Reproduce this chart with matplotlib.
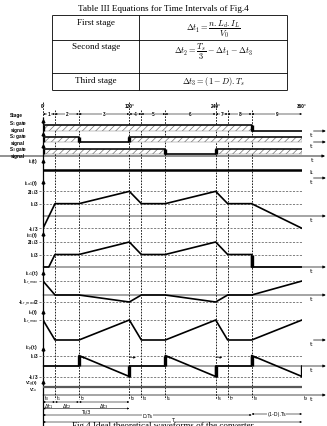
import matplotlib.pyplot as plt

W, H = 327, 427

# ---- table ----
table_title = 'Table III Equations for Time Intervals of Fig.4'
stage_names = ['First stage', 'Second stage', 'Third stage']
stage_eqs = [r'$\Delta t_1 = \dfrac{n.L_d.I_L}{V_0}$',
             r'$\Delta t_2 = \dfrac{T_s}{3} - \Delta t_1 - \Delta t_3$',
             r'$\Delta t_3 = (1 - D).T_s$']

# ---- waveforms (x in degrees of one period) ----
t_deg = [0, 16.7, 50, 120, 136.7, 170, 240, 256.7, 290, 360]
t_names = ['t$_0$', 't$_1$', 't$_2$', 't$_3$', 't$_4$', 't$_5$', 't$_6$', 't$_7$', 't$_8$', 't$_9$']
deg_ticks = [0, 120, 240, 360]
deg_labels = ['0°', '120°', '240°', '360°']
stage_labels = ['1', '2', '3', '4', '5', '6', '7', '8', '9']

s1_t = [0, 290, 360]
s1_v = [1, 0, 0]
s2_t = [0, 50, 120, 360]
s2_v = [1, 0, 1, 1]
s3_t = [0, 170, 240, 360]
s3_v = [1, 0, 1, 1]
gate_names = ['S$_1$ gate\nsignal', 'S$_2$ gate\nsignal', 'S$_3$ gate\nsignal']

iL_t = [0, 360]
iL_v = [1, 1]

iLa1_v = [-1/3, 1/3, 1/3, 2/3, 1/3, 1/3, 2/3, 1/3, 1/3, -1/3]
iS1_t = [0, 8, 16.7, 50, 120, 136.7, 170, 240, 256.7, 290, 290, 360]
iS1_v = [0, 0, 1/3, 1/3, 2/3, 1/3, 1/3, 2/3, 1/3, 1/3, 0, 0]
iLr1_v = [1, 0, 0, -0.5, 0, 0, -0.5, 0, 0, 1]
io_v = [1, 0, 0, 1, 0, 0, 1, 0, 0, 1]
iCp_t = [0, 50, 50, 120, 120, 170, 170, 240, 240, 290, 290, 360, 360]
iCp_v = [0, 0, 1/3, -1/3, 0, 0, 1/3, -1/3, 0, 0, 1/3, -1/3, 0]
vcg_t = [0, 360]
vcg_v = [1, 1]

caption = 'Fig.4 Ideal theoretical waveforms of the converter'

LAB = dict(fontsize=3.4, fontweight='bold', family='Liberation Sans',
           math_fontfamily='dejavusans')
DASH = (0, (3, 2))

fig = plt.figure(figsize=(W / 100, H / 100), dpi=100)
plt.rcParams['hatch.linewidth'] = 0.5

bg = fig.add_axes([0, 0, 1, 1])
bg.set_xlim(0, W)
bg.set_ylim(H, 0)
bg.axis('off')

# table
serif = dict(family='Liberation Serif', fontsize=6.6)
bg.text(163, 9, table_title, ha='center', va='center', **serif)
bg.hlines([16, 41, 74, 91], 52, 287, color='k', lw=0.6)
bg.vlines([52, 139, 287], 16, 91, color='k', lw=0.6)
for name, eq, ny, ey in zip(stage_names, stage_eqs, [23, 47, 81], [29, 52, 81]):
    bg.text(96, ny, name, ha='center', va='center', **serif)
    bg.text(213, ey, eq, ha='center', va='center', fontsize=6.0, math_fontfamily='cm')

# time axis overlay: x in degrees, y in pixels
tl = fig.add_axes([43 / W, 0, 259 / W, 1])
tl.set_xlim(0, 360)
tl.set_ylim(H, 0)
tl.axis('off')

minor = [d for d in t_deg if d not in deg_ticks]
tl.vlines(minor, 111, 400, colors='k', linestyles=(0, (2, 1.5)), lw=0.6)
tl.vlines(deg_ticks[1:], 103, 400, colors='k', linestyles=(0, (2, 1.5)), lw=0.6)
tl.vlines(0, 103, 118, colors='k', linestyles=(0, (2, 1.5)), lw=0.6)
for d, lab in zip(deg_ticks, deg_labels):
    tl.text(d, 107, lab, ha='center', va='center', **LAB)

arr = dict(arrowstyle='<|-|>', lw=0.4, color='k', mutation_scale=2.5, shrinkA=0, shrinkB=0)
for a, b, lab in zip(t_deg[:-1], t_deg[1:], stage_labels):
    tl.annotate('', xy=(b, 115), xytext=(a, 115), arrowprops=arr)
    tl.text((a + b) / 2, 115, lab, ha='center', va='center',
            bbox=dict(fc='white', ec='none', pad=0.3), **LAB)

for d, name in zip(t_deg, t_names):
    tl.text(d + 1.5, 398.5, name, ha='left', va='center', fontsize=3.3, math_fontfamily='dejavusans')


def dim(a, b, y, label, ly, box=False):
    tl.annotate('', xy=(b, y), xytext=(a, y), arrowprops=arr, annotation_clip=False)
    kw = dict(bbox=dict(fc='white', ec='none', pad=0.2)) if box else {}
    tl.text((a + b) / 2, ly, label, ha='center', va='center', fontsize=3.6,
            math_fontfamily='dejavusans', **kw)


dim(t_deg[0], t_deg[1], 403, r'$\Delta$t$_1$', 406.5)
dim(t_deg[1], t_deg[2], 403, r'$\Delta$t$_2$', 406.5)
dim(t_deg[2], t_deg[3], 403, r'$\Delta$t$_3$', 406.5)
dim(0, 120, 409.5, 'Ts/3', 412.5)
dim(0, 290, 416, 'D.Ts', 417, box=True)
dim(290, 360, 415, '(1-D).Ts', 415, box=True)
dim(0, 360, 423, 'T', 421, box=True)


def row_axes(zero, unit, top, bottom):
    ax = fig.add_axes([43 / W, 1 - bottom / H, 259 / W, (bottom - top) / H])
    ax.set_xlim(0, 360)
    ax.set_ylim(-(bottom - zero) / unit, (zero - top) / unit)
    ax.axis('off')
    return ax


def t_arrow(ax, full=True):
    start = 0 if full else 376
    ax.annotate('', xy=(393, 0), xytext=(start, 0),
                arrowprops=dict(arrowstyle='-|>', lw=0.5, color='k', mutation_scale=4,
                                shrinkA=0, shrinkB=0), annotation_clip=False)
    ax.annotate('t', xy=(373, 0), xytext=(0, -0.5), textcoords='offset points',
                ha='center', va='top', fontsize=4.5, annotation_clip=False)


# gate signals
gates = [(s1_t, s1_v, 132, 6, 124, 134),
         (s2_t, s2_v, 143, 5, 136, 145),
         (s3_t, s3_v, 155, 5, 148, 157)]
for (tt, vv, z, u, top, bot), name, ny in zip(gates, gate_names, [126, 139, 152]):
    ax = row_axes(z, u, top, bot)
    ax.fill_between(tt, 0, vv, step='post', facecolor='white', edgecolor='0.45',
                    hatch='/////', lw=0.3)
    ax.plot(tt, vv, drawstyle='steps-post', color='k', lw=1.1)
    for i in range(1, len(vv)):
        if vv[i] != vv[i - 1]:
            ax.vlines(tt[i], 0, 1, colors='k', lw=2.4)
    ax.vlines(tt[0], 0, vv[0], colors='k', lw=2.4)
    if name != gate_names[-1]:
        t_arrow(ax, full=False)
    bg.text(18, ny, name, ha='center', va='center', linespacing=0.85, **LAB)

bg.text(16, 115, 'Stage', ha='center', va='center', **LAB)
bg.annotate('', xy=(325, 157), xytext=(0, 157),
            arrowprops=dict(arrowstyle='-|>', lw=0.6, color='k', mutation_scale=4,
                            shrinkA=0, shrinkB=0))
bg.text(312, 158.5, 't', ha='center', va='top', fontsize=4.5)

# i_L
ax = row_axes(179, 8, 163, 182)
ax.plot(iL_t, iL_v, color='k', lw=1.8)
t_arrow(ax, full=False)
bg.text(309, 173, 'I$_L$', ha='left', va='center', fontsize=4.5)
bg.text(38, 162, 'i$_L$(t)', ha='right', va='center', **LAB)

# current waveforms
rows = [
    ('i$_{La1}$(t)', t_deg, iLa1_v, (217, 37, 184, 232), [2/3, 1/3, -1/3],
     ['2I$_L$/3', 'I$_L$/3', '-I$_L$/3'], True, 184),
    ('i$_{S1}$(t)', iS1_t, iS1_v, (268, 37.5, 236, 271), [2/3, 1/3],
     ['2I$_L$/3', 'I$_L$/3'], True, 236),
    ('i$_{Lr1}$(t)', t_deg, iLr1_v, (296, 14, 276, 306), [1, -0.5],
     ['I$_{Lr\\_max}$', '-I$_{Lr\\_max}$/2'], True, 274),
    ('i$_o$(t)', t_deg, io_v, (341, 20, 314, 345), [1],
     ['I$_{Lr\\_max}$'], False, 313),
    ('i$_{Cp}$(t)', iCp_t, iCp_v, (367, 31.5, 352, 380), [1/3, -1/3],
     ['I$_L$/3', '-I$_L$/3'], True, 349),
]
for name, tt, vv, geo, levels, lev_labels, full, ny in rows:
    ax = row_axes(*geo)
    ax.hlines(levels, -5, 360, colors='0.3', linestyles=DASH, lw=0.5, clip_on=False)
    t_arrow(ax, full=full)
    ax.plot(tt, vv, color='k', lw=1.2)
    for i in range(1, len(tt)):
        if tt[i] == tt[i - 1]:
            ax.vlines(tt[i], vv[i - 1], vv[i], colors='k', lw=2.4)
    for lev, lab in zip(levels, lev_labels):
        ax.text(-6, lev, lab, ha='right', va='center', **LAB)
    bg.text(38, ny, name, ha='right', va='center', **LAB)
    if name == 'i$_{Cp}$(t)':
        for i in range(1, len(tt)):
            if tt[i] == tt[i - 1] and vv[i] > vv[i - 1]:
                ax.annotate('', xy=(tt[i] + 9, 0.27), xytext=(tt[i], 0.27),
                            arrowprops=dict(arrowstyle='-|>', lw=0.4, color='k',
                                            mutation_scale=3, shrinkA=0, shrinkB=0))

# V_cg
ax = row_axes(396, 8, 382, 399)
ax.plot(vcg_t, vcg_v, color='0.35', lw=1.6)
t_arrow(ax, full=True)
vlab = dict(LAB, fontsize=3.1)
bg.text(38, 383.5, 'V$_{Cg}$(t)', ha='right', va='center', **vlab)
bg.text(38, 390.5, 'V$_{Cu}$', ha='right', va='center', **vlab)

# left vertical axis with small arrow marks
bg.vlines(43, 118, 427, colors='k', lw=0.9)
bg.plot([43] * 10, [122, 135, 147, 162, 183, 235, 274, 313, 350, 383], ls='none',
        marker='^', ms=2, color='k')

bg.text(163, 422, caption, ha='center', va='top', family='Liberation Serif', fontsize=6.5)

fig.savefig('out.png', dpi=100)
